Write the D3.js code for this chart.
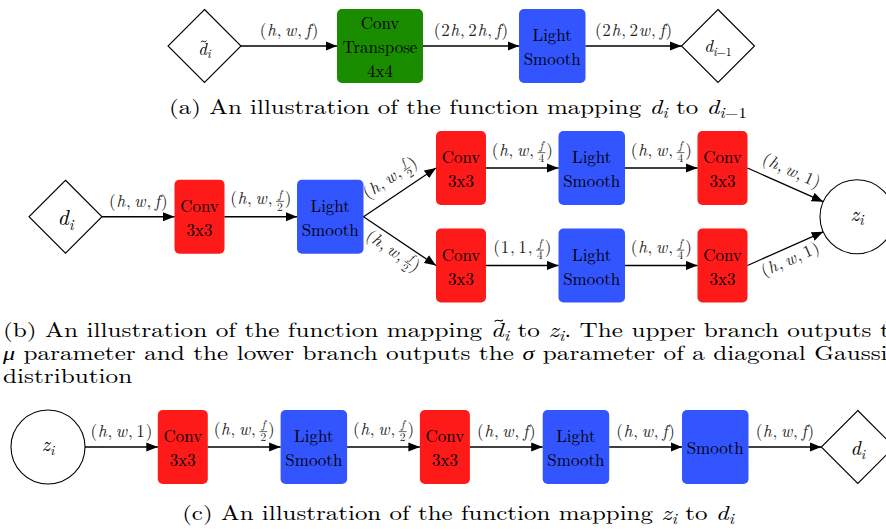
<!DOCTYPE html>
<html>
<head>
<meta charset="utf-8">
<script src="https://cdn.jsdelivr.net/npm/d3@7"></script>
<style>
  body { margin: 0; background: #fff; }
  svg { display: block; font-family: "Latin Modern Roman", "CMU Serif", serif; }
  text { white-space: pre; }
</style>
</head>
<body>
<svg id="fig" width="886" height="530"></svg>
<script>
// ---- diagram content ----
// (a) d~_i -> d_{i-1}
const nodesA = [["diamond", "$\\tilde{d}_i$"], ["green", "Conv|Transpose|4x4"], ["blue", "Light|Smooth"], ["diamond", "$d_{i-1}$"]];
const edgeLabelsA = ["$(h,w,f)$", "$(2h,2h,f)$", "$(2h,2w,f)$"];

// (b) d_i -> z_i, two branches
const trunkB = [["diamond", "$d_i$"], ["red", "Conv|3x3"], ["blue", "Light|Smooth"]];
const branchB = [["red", "Conv|3x3"], ["blue", "Light|Smooth"], ["red", "Conv|3x3"]];
const outB = ["circle", "$z_i$"];
const trunkLabelsB = ["$(h,w,f)$", "$(h,w,\\frac{f}{2})$"];
const upperLabelsB = ["$(h,w,\\frac{f}{2})$", "$(h,w,\\frac{f}{4})$", "$(h,w,\\frac{f}{4})$", "$(h,w,1)$"];
const lowerLabelsB = ["$(h,w,\\frac{f}{2})$", "$(1,1,\\frac{f}{4})$", "$(h,w,\\frac{f}{4})$", "$(h,w,1)$"];

// (c) z_i -> d_i
const nodesC = [["circle", "$z_i$"], ["red", "Conv|3x3"], ["blue", "Light|Smooth"], ["red", "Conv|3x3"],
                ["blue", "Light|Smooth"], ["blue", "Smooth"], ["diamond", "$d_i$"]];
const edgeLabelsC = ["$(h,w,1)$", "$(h,w,\\frac{f}{2})$", "$(h,w,\\frac{f}{2})$", "$(h,w,f)$", "$(h,w,f)$", "$(h,w,f)$"];

const captionA = "(a) An illustration of the function mapping $d_i$ to $d_{i-1}$";
const captionB = ["(b) An illustration of the function mapping $\\tilde{d}_i$ to $z_i$. The upper branch outputs the",
                  "$\\mu$ parameter and the lower branch outputs the $\\sigma$ parameter of a diagonal Gaussian",
                  "distribution"];
const captionC = "(c) An illustration of the function mapping $z_i$ to $d_i$";

// ---- setup ----
const svg = d3.select("#fig");

const fill = d3.scaleOrdinal()
    .domain(["red", "blue", "green", "diamond", "circle"])
    .range(["#ff1a1a", "#3355ff", "#1a8c00", "#fff", "#fff"]);

const kindW = { diamond: 73, circle: 74, red: 50, blue: 66.5, green: 86 };
const NODE_H = 74;

svg.append("defs").append("marker")
    .attr("id", "tip")
    .attr("markerUnits", "userSpaceOnUse")
    .attr("viewBox", "0 -5 12 10")
    .attr("refX", 11.5).attr("refY", 0)
    .attr("markerWidth", 12).attr("markerHeight", 10)
    .attr("orient", "auto")
  .append("path")
    .attr("d", "M0,-4.6L11.5,0L0,4.6Z")
    .attr("fill", "#000");

// tiny tex-ish parser: $...$ math, _x / _{..} subscripts, \tilde, \frac, \mu, \sigma
function mathChar(ch, sub) {
    if (ch === "-") return { t: "\u2212", sub };
    return { t: ch, it: /[a-z]/i.test(ch), sub, comma: ch === "," };
}
function parseTex(str) {
    const out = [];
    str.split("$").forEach((part, k) => {
        if (!part) return;
        if (k % 2 === 0) { out.push({ t: part }); return; }
        let i = 0;
        const take = () => {
            if (part[i] === "{") { const j = part.indexOf("}", i); const s = part.slice(i + 1, j); i = j + 1; return s; }
            return part[i++];
        };
        while (i < part.length) {
            if (part.startsWith("\\tilde", i)) { i += 6; out.push({ t: take(), it: true, tilde: true }); continue; }
            if (part.startsWith("\\frac", i)) { i += 5; const n = take(), d = take(); out.push({ frac: [n, d] }); continue; }
            if (part.startsWith("\\mu", i)) { i += 3; out.push({ t: "\u03bc", it: true, greek: true }); continue; }
            if (part.startsWith("\\sigma", i)) { i += 6; out.push({ t: "\u03c3", it: true, greek: true }); continue; }
            if (part[i] === "_") { i++; for (const ch of take()) out.push(mathChar(ch, true)); continue; }
            out.push(mathChar(part[i], false)); i++;
        }
    });
    return out;
}

function drawTilde(g, cx, cy, size) {
    const a = size * 0.16, b = size * 0.045;
    g.append("path")
        .attr("d", `M${cx - a},${cy + b}C${cx - a * 0.4},${cy - b * 3} ${cx + a * 0.4},${cy + b * 3} ${cx + a},${cy - b}`)
        .attr("fill", "none").attr("stroke", "#000").attr("stroke-width", size * 0.055);
}

function drawTex(parent, str, size, opt = {}) {
    const g = parent.append("g").attr("fill", opt.color || "#000");
    const inner = g.append("g");
    const gap = opt.gap || 0, commaGap = opt.commaGap || 0.17 * size;
    let x = 0, hasFrac = false;
    parseTex(str).forEach(s => {
        if (s.frac) {
            hasFrac = true;
            const fs = size * 0.68;
            const num = inner.append("text").attr("font-size", fs).attr("y", -0.37 * size)
                .attr("font-style", /[a-z]/.test(s.frac[0]) ? "italic" : null).text(s.frac[0]);
            const den = inner.append("text").attr("font-size", fs).attr("y", 0.37 * size)
                .attr("font-style", /[a-z]/.test(s.frac[1]) ? "italic" : null).text(s.frac[1]);
            const wn = num.node().getComputedTextLength(), wd = den.node().getComputedTextLength();
            const w = Math.max(wn, wd) + 2;
            num.attr("x", x + (w - wn) / 2);
            den.attr("x", x + (w - wd) / 2);
            inner.append("line")
                .attr("x1", x).attr("x2", x + w)
                .attr("y1", -0.18 * size).attr("y2", -0.18 * size)
                .attr("stroke", opt.color || "#000").attr("stroke-width", 0.7);
            x += w + gap;
            return;
        }
        const fs = s.sub ? size * 0.7 : size;
        const t = inner.append("text")
            .attr("xml:space", "preserve")
            .attr("x", x).attr("y", s.sub ? size * 0.2 : 0)
            .attr("font-size", s.greek ? fs * 0.95 : fs)
            .attr("font-style", s.it ? "italic" : null)
            .style("font-family", s.greek ? '"Liberation Serif", serif' : null)
            .text(s.t);
        const w = t.node().getComputedTextLength();
        if (s.tilde) drawTilde(inner, x + w * 0.62, -size * 0.8, size);
        x += w + (s.comma ? commaGap : 0) + gap;
    });
    return { g, inner, width: x - gap, hasFrac };
}

function lefts(kinds, start, gap) {
    let x = start;
    return kinds.map(k => { const l = x; x += kindW[k] + gap; return l; });
}

function drawNode(parent, node, x0, cy, mathSize) {
    const [kind, label] = node;
    const w = kindW[kind], cx = x0 + w / 2;
    if (kind === "diamond") {
        parent.append("polygon")
            .attr("points", [[cx, cy - w / 2], [x0 + w, cy], [cx, cy + w / 2], [x0, cy]].join(" "))
            .attr("fill", "#fff").attr("stroke", "#000").attr("stroke-width", 1.1);
    } else if (kind === "circle") {
        parent.append("circle").attr("cx", cx).attr("cy", cy).attr("r", w / 2)
            .attr("fill", "#fff").attr("stroke", "#000").attr("stroke-width", 1.1);
    } else {
        parent.append("rect")
            .attr("x", x0).attr("y", cy - NODE_H / 2)
            .attr("width", w).attr("height", NODE_H)
            .attr("rx", 5)
            .attr("fill", fill(kind));
    }
    if (label.includes("$")) {
        const m = drawTex(parent, label, mathSize);
        const off = mathSize * (label.includes("d") ? 0.38 : 0.2) + (label.includes("tilde") ? mathSize * 0.15 : 0);
        m.g.attr("transform", `translate(${cx - m.width / 2},${cy + off})`);
    } else {
        const lines = label.split("|");
        parent.selectAll(null)
            .data(lines)
            .enter().append("text")
            .attr("x", cx)
            .attr("y", (d, k) => cy + 7 + (k - (lines.length - 1) / 2) * 24)
            .attr("text-anchor", "middle")
            .attr("font-size", 17)
            .attr("fill", "#000")
            .text(d => d);
    }
    return { kind, x0, x1: x0 + w, cx, cy, r: w / 2 };
}

const LABEL_SIZE = 17;
function drawEdge(parent, a, b, label, side) {
    const p0 = [a.x1, a.cy];
    let p1 = [b.x0, b.cy];
    if (b.kind === "circle") {
        const dx = b.cx - p0[0], dy = b.cy - p0[1], L = Math.hypot(dx, dy);
        p1 = [b.cx - dx / L * b.r, b.cy - dy / L * b.r];
    }
    parent.append("line")
        .attr("x1", p0[0]).attr("y1", p0[1])
        .attr("x2", p1[0]).attr("y2", p1[1])
        .attr("stroke", "#000").attr("stroke-width", 1.3)
        .attr("marker-end", "url(#tip)");

    const lab = drawTex(parent, label, LABEL_SIZE, { gap: 0.8, commaGap: 0.17 * LABEL_SIZE, color: "#222" });
    const ang = Math.atan2(p1[1] - p0[1], p1[0] - p0[0]) * 180 / Math.PI;
    const mx = (p0[0] + p1[0]) / 2, my = (p0[1] + p1[1]) / 2;
    const dy = side === "below" ? 17 : -(6.5 + (lab.hasFrac ? 5.8 : 3.6));
    lab.g.attr("transform", `translate(${mx},${my}) rotate(${ang})`);
    lab.inner.attr("transform", `translate(${-lab.width / 2},${dy})`);
}

// ---- panel (a) ----
const gA = svg.append("g");
const xA = lefts(nodesA.map(d => d[0]), 168, 96);
const placedA = nodesA.map((n, i) => drawNode(gA, n, xA[i], 46, 17));
edgeLabelsA.forEach((l, i) => drawEdge(gA, placedA[i], placedA[i + 1], l, "above"));

// ---- panel (b) ----
const gB = svg.append("g");
const rowY = d3.scalePoint().domain(["upper", "main", "lower"]).range([168, 265.5]);
const kindsB = trunkB.concat(branchB, [outB]).map(d => d[0]);
const xB = lefts(kindsB, 29, 72.5);
const placedTrunk = trunkB.map((n, i) => drawNode(gB, n, xB[i], rowY("main"), 22));
const placedUp = branchB.map((n, i) => drawNode(gB, n, xB[trunkB.length + i], rowY("upper"), 22));
const placedLo = branchB.map((n, i) => drawNode(gB, n, xB[trunkB.length + i], rowY("lower"), 22));
const placedOut = drawNode(gB, outB, xB[kindsB.length - 1], rowY("main"), 21);
trunkLabelsB.forEach((l, i) => drawEdge(gB, placedTrunk[i], placedTrunk[i + 1], l, "above"));
const upChain = [placedTrunk[placedTrunk.length - 1]].concat(placedUp, [placedOut]);
const loChain = [placedTrunk[placedTrunk.length - 1]].concat(placedLo, [placedOut]);
upperLabelsB.forEach((l, i) => drawEdge(gB, upChain[i], upChain[i + 1], l, "above"));
lowerLabelsB.forEach((l, i) => {
    const diag = i === 0 || i === lowerLabelsB.length - 1;
    drawEdge(gB, loChain[i], loChain[i + 1], l, diag ? "below" : "above");
});

// ---- panel (c) ----
const gC = svg.append("g");
const xC = lefts(nodesC.map(d => d[0]), 11, 72.8);
const placedC = nodesC.map((n, i) => drawNode(gC, n, xC[i], 447, 20));
edgeLabelsC.forEach((l, i) => drawEdge(gC, placedC[i], placedC[i + 1], l, "above"));

// ---- captions ----
const CAP_SIZE = 20.5;
const capA = drawTex(svg, captionA, CAP_SIZE);
const k = 578 / capA.width;
capA.g.attr("transform", `translate(${458 - capA.width * k / 2},114) scale(${k},1)`);
captionB.forEach((line, i) => {
    const c = drawTex(svg, line, CAP_SIZE);
    c.g.attr("transform", `translate(3,${337 + i * 22.8}) scale(${k * 1.012},1)`);
});
const capC = drawTex(svg, captionC, CAP_SIZE);
capC.g.attr("transform", `translate(${458 - capC.width * k / 2},520) scale(${k},1)`);
</script>
</body>
</html>
